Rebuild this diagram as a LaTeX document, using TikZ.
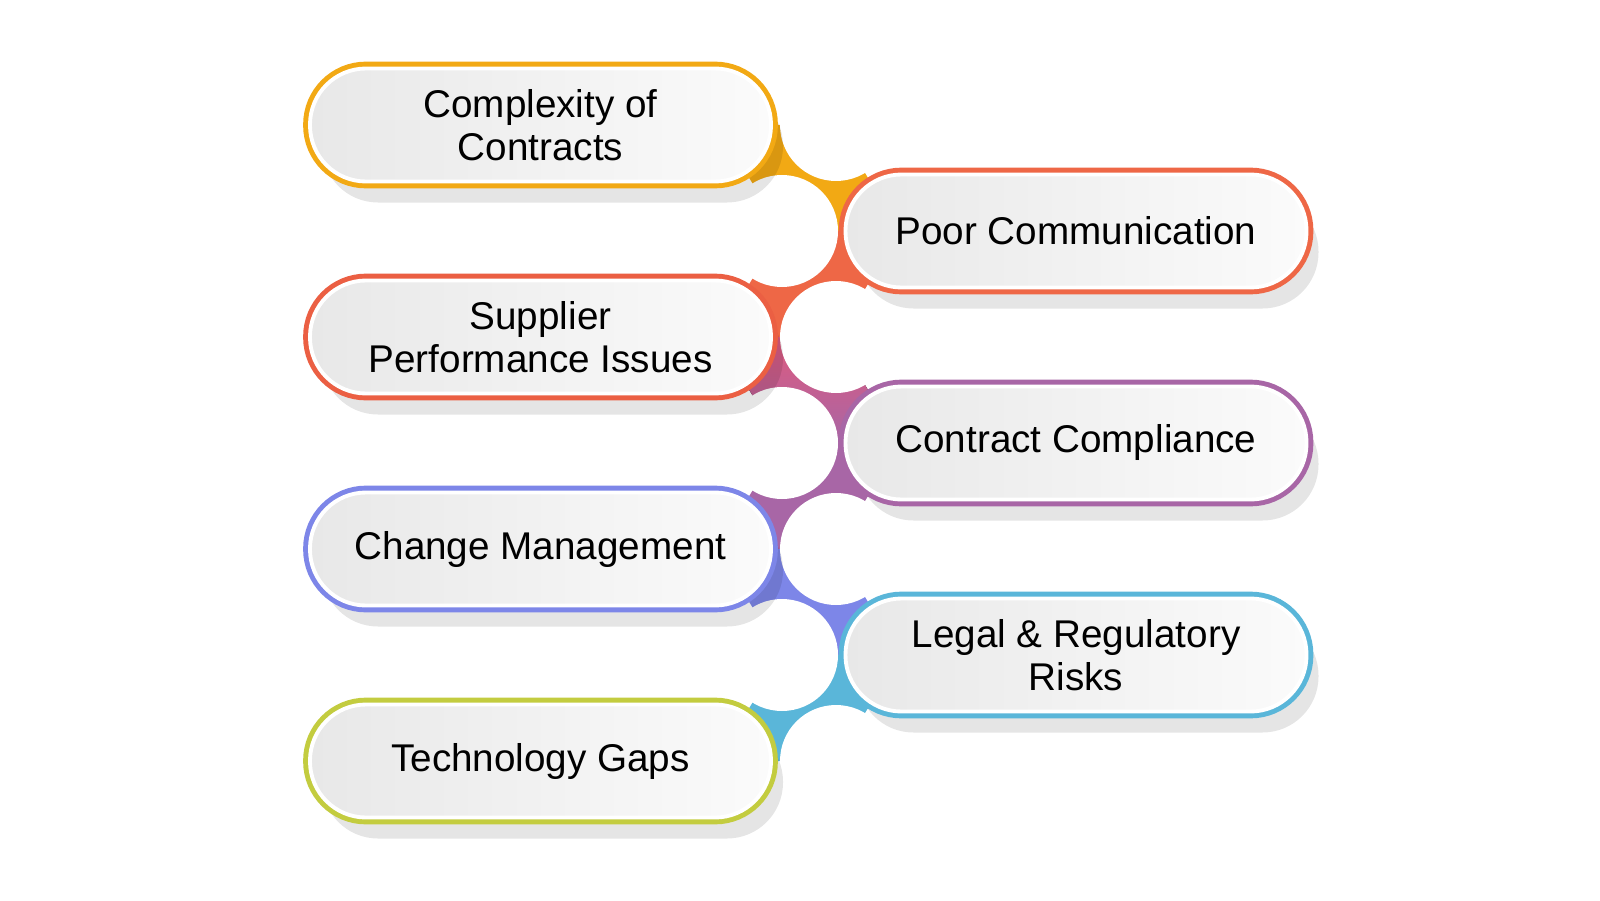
\documentclass[tikz,border=0pt]{standalone}
\usepackage{fontspec}
\setmainfont{Liberation Sans}
\usepackage{xcolor}
\usepackage{tikz}
\usetikzlibrary{positioning, calc, shadows}

\definecolor{cplxcol}{HTML}{F2A914}
\definecolor{commcol}{HTML}{EE6746}
\definecolor{suppcol}{HTML}{EB5F43}
\definecolor{complcol}{HTML}{A866A6}
\definecolor{changecol}{HTML}{7D86E8}
\definecolor{legalcol}{HTML}{5AB6D9}
\definecolor{techcol}{HTML}{C3CC3F}
\definecolor{pinkcol}{HTML}{DE5A7E}
\definecolor{pillgrayA}{HTML}{E8E8E8}
\definecolor{pillgrayB}{HTML}{FBFBFB}

\pgfdeclarelayer{background}
\pgfsetlayers{background,main}

\begin{document}
\begin{tikzpicture}[
  pill/.style={draw=white, line width=1.1pt, rounded corners=5.6mm,
    minimum width=4.61cm, minimum height=1.13cm, inner sep=0pt,
    align=center, text=black, font=\fontsize{11}{12.3}\selectfont,
    left color=pillgrayA, right color=pillgrayB,
    drop shadow={shadow xshift=0.12cm, shadow yshift=-0.21cm,
                 fill=black, opacity=0.1},
    preaction={draw=#1, line width=3.9pt}},
  web/.style={fill=#1},
  gap/.style={fill=white},
]
  \useasboundingbox (0,0) rectangle (16,9);
  % left column
  \node[pill=cplxcol]   (cplx)   at (5.405,7.75) {Complexity of\\Contracts};
  \node[pill=suppcol]   (supp)   at (5.405,5.63) {Supplier\\Performance Issues};
  \node[pill=changecol] (change) at (5.405,3.51) {Change Management};
  \node[pill=techcol]   (tech)   at (5.405,1.39) {Technology Gaps};
  % right column
  \node[pill=commcol]   (comm)   at (10.76,6.69) {Poor Communication};
  \node[pill=complcol]  (compl)  at (10.76,4.57) {Contract Compliance};
  \node[pill=legalcol]  (legal)  at (10.76,2.45) {Legal \& Regulatory\\Risks};

  \begin{pgfonlayer}{background}
    \fill[white] (0,0) rectangle (16,9);
    % end caps and the white gaps beside them
    \foreach \n in {cplx,supp,change,tech} {
      \coordinate (\n-c) at ($(\n.east)+(-0.565,0)$);
      \coordinate (gap-\n) at (8.36,0 |- \n.center);
    }
    \foreach \n in {comm,compl,legal} {
      \coordinate (\n-c) at ($(\n.west)+(0.565,0)$);
      \coordinate (gap-\n) at (7.82,0 |- \n.center);
    }
    % coloured links
    \fill[web=cplxcol]   (cplx-c) -- (gap-cplx) -- (comm-c) -- (gap-comm) -- cycle;
    \fill[web=commcol]   (comm-c) -- (gap-comm) -- (supp-c) -- (gap-supp) -- cycle;
    \fill[top color=pinkcol, bottom color=complcol]
                         (supp-c) -- (gap-supp) -- (compl-c) -- (gap-compl) -- cycle;
    \fill[web=complcol]  (compl-c) -- (gap-compl) -- (change-c) -- (gap-change) -- cycle;
    \fill[web=changecol] (change-c) -- (gap-change) -- (legal-c) -- (gap-legal) -- cycle;
    \fill[web=legalcol]  (legal-c) -- (gap-legal) -- (tech-c) -- (gap-tech) -- cycle;
    \foreach \g in {cplx,supp,change,tech,comm,compl,legal}
      \fill[gap] (gap-\g) circle (0.56);
  \end{pgfonlayer}
\end{tikzpicture}
\end{document}
